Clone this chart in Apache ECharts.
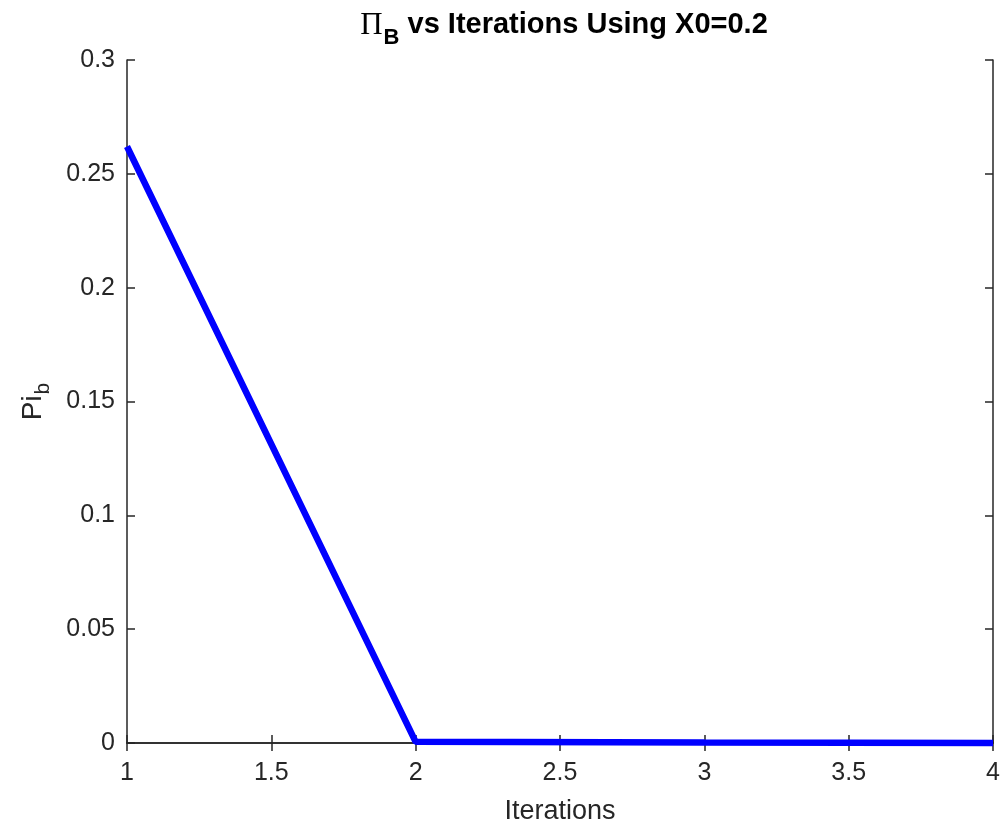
<!DOCTYPE html>
<html>
<head>
<meta charset="utf-8">
<script src="https://cdn.jsdelivr.net/npm/echarts@6/dist/echarts.min.js"></script>
<style>
	html, body { margin: 0; padding: 0; background: #fff; }
	#main { width: 1006px; height: 830px; }
</style>
</head>
<body>
<div id="main"></div>
<script>
// values
var iterations = [1, 2, 3, 4];
var piB = [0.262, 0.0005, 0.0002, 0];

var xTicks = { min: 1, max: 4, step: 0.5 };
var yTicks = { min: 0, max: 0.3, step: 0.05 };

var pts = [];
for (let i = 0; i < iterations.length; i++) {
	pts.push([iterations[i], piB[i]]);
}

var axCol = '#262626';
var fnt = '"Liberation Sans", Arial, sans-serif';

let myChart = echarts.init(document.getElementById('main'));
let option;

option = {
	animation: false,
	backgroundColor: '#fff',
	title: {
		text: '{pi|\u03A0}{sub|B}{t| vs Iterations Using X0=0.2}',
		left: 559,
		textAlign: 'center',
		top: 5,
		textStyle: {
			rich: {
				pi: { fontFamily: '"Liberation Serif", serif', fontSize: 31, color: '#000', fontWeight: 'normal', verticalAlign: 'top', lineHeight: 32 },
				sub: { fontFamily: fnt, fontSize: 22, fontWeight: 'bold', color: '#000', verticalAlign: 'top', lineHeight: 23, padding: [17, 0, 0, 1] },
				t: { fontFamily: fnt, fontSize: 29, fontWeight: 'bold', color: '#000', verticalAlign: 'top', lineHeight: 32 }
			}
		}
	},
	grid: {
		left: 127,
		right: 13,
		top: 60,
		bottom: 87
	},
	xAxis: [{
		type: 'value',
		min: xTicks.min,
		max: xTicks.max,
		interval: xTicks.step,
		name: 'Iterations',
		nameLocation: 'middle',
		nameGap: 55,
		nameTextStyle: { fontFamily: fnt, fontSize: 27, color: axCol },
		axisLine: { show: true, lineStyle: { color: axCol, width: 1.5 } },
		axisTick: { show: true, inside: true, length: 8, lineStyle: { color: axCol, width: 1.5 } },
		axisLabel: { fontFamily: fnt, fontSize: 25, color: axCol, margin: 18 },
		splitLine: { show: false }
	}, {
		type: 'value',
		position: 'top',
		min: xTicks.min,
		max: xTicks.max,
		interval: xTicks.step,
		axisLine: { show: true, lineStyle: { color: axCol, width: 1.5 } },
		axisTick: { show: true, inside: true, length: 8, lineStyle: { color: axCol, width: 1.5 } },
		axisLabel: { show: false },
		splitLine: { show: false }
	}],
	yAxis: [{
		type: 'value',
		min: yTicks.min,
		max: yTicks.max,
		interval: yTicks.step,
		name: '{m|Pi}{s|b}',
		nameLocation: 'middle',
		nameRotate: 90,
		nameGap: 78,
		nameTextStyle: {
			rich: {
				m: { fontFamily: fnt, fontSize: 28, color: axCol, verticalAlign: 'top', lineHeight: 30 },
				s: { fontFamily: fnt, fontSize: 21, color: axCol, verticalAlign: 'top', lineHeight: 22, padding: [14, 0, 0, 1] }
			}
		},
		axisLine: { show: true, lineStyle: { color: axCol, width: 1.5 } },
		axisTick: { show: true, inside: true, length: 8, lineStyle: { color: axCol, width: 1.5 } },
		axisLabel: { fontFamily: fnt, fontSize: 25, color: axCol, margin: 12 },
		splitLine: { show: false }
	}, {
		type: 'value',
		position: 'right',
		min: yTicks.min,
		max: yTicks.max,
		interval: yTicks.step,
		axisLine: { show: true, lineStyle: { color: axCol, width: 1.5 } },
		axisTick: { show: true, inside: true, length: 8, lineStyle: { color: axCol, width: 1.5 } },
		axisLabel: { show: false },
		splitLine: { show: false }
	}],
	series: [{
		type: 'line',
		data: pts,
		showSymbol: false,
		symbol: 'none',
		lineStyle: { color: '#0000ff', width: 6.5 },
		clip: false
	}]
};
option && myChart.setOption(option);
</script>
</body>
</html>
